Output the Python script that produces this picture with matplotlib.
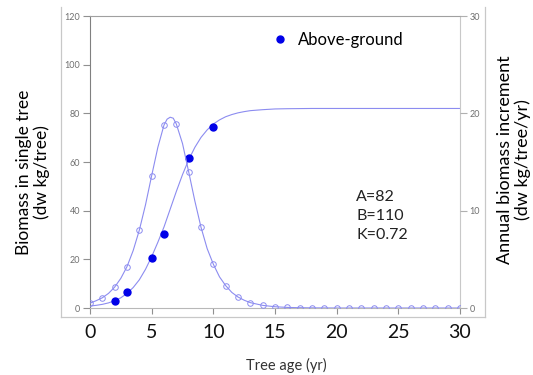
import numpy as np
import matplotlib.pyplot as plt

plt.rcParams['font.family'] = ['Lato', 'DejaVu Sans']

# measured above-ground biomass (kg/tree)
age_obs = [2, 3, 5, 6, 8, 10]
biomass_obs = [3.0, 6.7, 20.7, 30.4, 61.8, 74.5]

# fitted growth curve (kg/tree)
fit_age = [0, 0.5, 1, 1.5, 2, 2.5, 3, 3.5, 4, 4.5, 5, 5.5, 6, 6.5, 7, 7.5, 8,
           8.5, 9, 9.5, 10, 10.5, 11, 11.5, 12, 12.5, 13, 14, 15, 16, 18, 22, 30]
fit_biomass = [0.8, 1.1, 1.5, 2.1, 3.0, 4.2, 6.0, 8.4, 11.6, 15.9, 21.1, 27.0,
               33.3, 40.6, 47.9, 54.8, 60.9, 66.0, 70.1, 73.2, 75.6, 77.3, 78.6,
               79.5, 80.2, 80.7, 81.1, 81.5, 81.8, 81.9, 82.0, 82.0, 82.0]

# annual increment curve (kg/tree/yr)
inc_age = [0, 0.5, 1, 1.5, 2, 2.5, 3, 3.5, 4, 4.5, 5, 5.5, 6, 6.25, 6.5, 6.75,
           7, 7.5, 8, 8.5, 9, 9.5, 10, 10.5, 11, 11.5, 12, 12.5, 13, 14, 15,
           16, 17, 18, 20, 30]
inc_curve = [0.5, 0.75, 1.05, 1.5, 2.15, 3.05, 4.25, 5.9, 8.0, 10.6, 13.6, 16.5,
             18.8, 19.4, 19.6, 19.5, 18.9, 16.9, 14.0, 11.0, 8.3, 6.1, 4.5, 3.2,
             2.3, 1.6, 1.13, 0.8, 0.55, 0.27, 0.13, 0.06, 0.03, 0.015, 0.0, 0.0]

# increment at whole years
inc_years = list(range(0, 31))
inc_points = [0.5, 1.05, 2.15, 4.25, 8.0, 13.6, 18.8, 18.9, 14.0, 8.3, 4.5, 2.3,
              1.13, 0.55, 0.27, 0.13, 0.06, 0.03, 0.015, 0.01, 0, 0, 0, 0, 0,
              0, 0, 0, 0, 0, 0]

line_c = '#8c8cf0'
dot_c = '#0000e8'

W, H = 533, 375
fig = plt.figure(figsize=(5.33, 3.75), dpi=100)

# outer frame with big x tick labels
fr = fig.add_axes([61 / W, 1 - 317 / H, 424 / W, 310 / H])
fr.set_xlim((61 - 90) / 12.333, (485 - 90) / 12.333)
fr.set_ylim(0, 1)
fr.patch.set_alpha(0)
fr.spines['top'].set_visible(False)
for s in ['left', 'bottom', 'right']:
    fr.spines[s].set_color('#c8c8c8')
    fr.spines[s].set_linewidth(0.9)
fr.set_xticks(range(0, 31, 5))
fr.tick_params(axis='x', length=0, pad=5, labelsize=14, labelcolor='#111111')
fr.set_yticks([])

# inner plot
ax = fig.add_axes([90 / W, 1 - 308 / H, 370 / W, 292 / H])
ax.patch.set_alpha(0)
ax.set_xlim(0, 30)
ax.set_ylim(0, 120)
ax.spines['left'].set_color('#808080')
ax.spines['top'].set_color('#a0a0a0')
ax.spines['bottom'].set_color('#b8b8b8')
ax.spines['right'].set_color('#c8c8c8')
for s in ax.spines.values():
    s.set_linewidth(0.8)
ax.set_xticks(range(0, 31, 5))
ax.tick_params(axis='x', length=4, color='#909090', labelbottom=False)
ax.set_yticks(range(0, 121, 20))
ax.tick_params(axis='y', length=5, color='#909090', labelsize=6.5,
               labelcolor='#707070', pad=2)

ax2 = ax.twinx()
ax2.set_ylim(0, 30)
ax2.set_yticks([0, 10, 20, 30])
ax2.tick_params(axis='y', length=5, color='#b0b0b0', labelsize=6.5,
                labelcolor='#707070', pad=2)
for s in ax2.spines.values():
    s.set_visible(False)

ax.plot(fit_age, fit_biomass, color=line_c, lw=0.8, zorder=2)
ax.plot(age_obs, biomass_obs, 'o', color=dot_c, ms=5, mec=dot_c, zorder=4,
        label='Above-ground')
ax2.plot(inc_age, inc_curve, color=line_c, lw=0.8, zorder=2)
ax2.plot(inc_years, inc_points, 'o', ms=4, mfc='none', mec=line_c, mew=0.7,
         zorder=3)

leg = ax.legend(loc='upper left', bbox_to_anchor=(0.455, 0.975), frameon=False,
                fontsize=12, handletextpad=0.3, handlelength=1.6,
                borderpad=0, markerscale=1.0)

fig.text(356 / W, 1 - 190 / H, 'A=82\nB=110\nK=0.72', fontsize=11.5,
         ha='left', va='top', linespacing=1.45, color='#222222')

fig.text(33 / W, 1 - 172 / H, 'Biomass in single tree\n(dw kg/tree)',
         rotation=90, ha='center', va='center', multialignment='center',
         fontsize=12.5, linespacing=1.15)
fig.text(514 / W, 1 - 160 / H, 'Annual biomass increment\n(dw kg/tree/yr)',
         rotation=90, ha='center', va='center', multialignment='center',
         fontsize=13, linespacing=1.15)
fig.text(286 / W, 1 - 365 / H, 'Tree age (yr)', ha='center', va='center',
         fontsize=10.5, color='#333333')

fig.savefig('out.png', dpi=100)
